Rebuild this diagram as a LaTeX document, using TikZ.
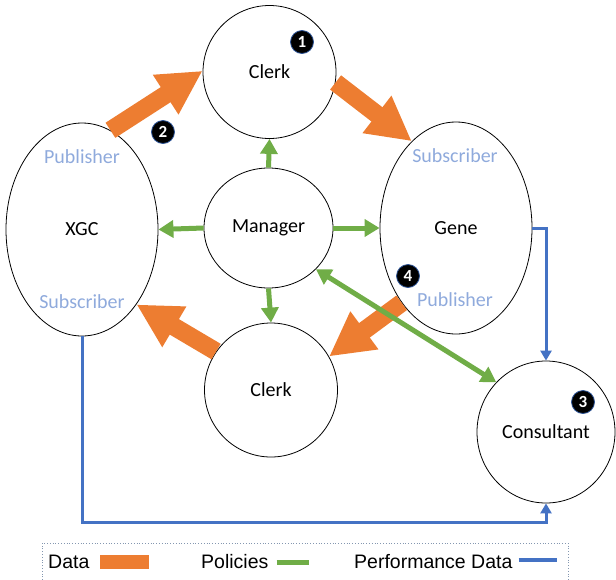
\documentclass[tikz,border=0pt]{standalone}
\usepackage{fontspec}
\setmainfont{Carlito}
\newfontfamily\legendfont{Liberation Sans}
\usetikzlibrary{arrows.meta,shapes.geometric}

\definecolor{dataorange}{HTML}{ED7D31}
\definecolor{policygreen}{HTML}{70AD47}
\definecolor{perfblue}{HTML}{4472C4}
\definecolor{rolelabel}{HTML}{8FAADC}
\definecolor{badgeline}{HTML}{2F5597}
\definecolor{legendline}{HTML}{8497B0}

\begin{document}
\begin{tikzpicture}[x=1pt, y=-1pt,
  agent/.style={draw=black, line width=0.8pt, ellipse, inner sep=0pt,
    font=\fontsize{20}{24}\selectfont},
  role/.style={text=rolelabel, inner sep=0pt, font=\fontsize{20}{24}\selectfont},
  badge/.style={circle, fill=black, draw=badgeline, line width=0.8pt, inner sep=0pt,
    minimum size=23pt, text=white, font=\fontsize{17}{17}\selectfont\bfseries},
  data/.style={dataorange, line width=18pt, -{Triangle[width=44pt, length=44pt]}},
  policy/.style={policygreen, line width=5pt, -{Triangle[width=17pt, length=15pt]}},
  perf/.style={perfblue, line width=3pt, -{Triangle[width=11pt, length=10pt]}},
  legendtext/.style={inner sep=0pt, font=\legendfont\fontsize{19.5}{22}\selectfont}]
\useasboundingbox (0,0) rectangle (616,579);

% agents
\node[agent, minimum width=133pt, minimum height=133pt] (clerkA) at (269.5,72) {Clerk};
\node[agent, minimum width=152pt, minimum height=213pt] (xgc) at (82,229.5) {XGC};
\node[agent, minimum width=129pt, minimum height=120pt] (manager) at (268.5,228) {Manager};
\node[agent, minimum width=152pt, minimum height=212pt] (gene) at (456,228) {Gene};
\node[agent, minimum width=133pt, minimum height=134pt] (clerkB) at (271,390) {Clerk};
\node[agent, minimum width=138pt, minimum height=142pt] (consult) at (546,432) {Consultant};

% publisher / subscriber labels
\node[role] (xgcpub) at (82,157) {Publisher};
\node[role] (xgcsub) at (82,302) {Subscriber};
\node[role] (genesub) at (455,156) {Subscriber};
\node[role] (genepub) at (455,300) {Publisher};

% numbered steps
\node[badge] (stepone) at (302,42) {1};
\node[badge] (steptwo) at (163,132) {2};
\node[badge] (stepthree) at (583,402) {3};
\node[badge] (stepfour) at (408,276) {4};

% data flow
\draw[data] (xgc.74) -- (clerkA.179);
\draw[data] (clerkA.-9) -- (gene.117);
\draw[data] (gene.-126) -- (clerkB.30);
\draw[data] (clerkB.145) -- (xgc.-54);

% policies
\draw[policy] (manager.north) -- (clerkA.south);
\draw[policy] (manager.west) -- (xgc.east);
\draw[policy] (manager.east) -- (gene.west);
\draw[policy] (manager.south) -- (clerkB.north);
\draw[policy, {Triangle[width=17pt, length=15pt]}-{Triangle[width=17pt, length=15pt]}]
  (manager.-41) -- (consult.135);

% performance data
\coordinate (perfturn) at (546,522);
\draw[perf] (gene.east) -| (consult.north);
\draw[perf] (xgc.south) |- (perfturn) -- (consult.south);

% legend
\draw[legendline, line width=0.8pt, dotted] (42,580) -- (42,543) -- (568,543) -- (568,580);
\node[legendtext, anchor=west] (legdata) at (48,562) {Data};
\node[fill=dataorange, minimum width=49pt, minimum height=14pt, inner sep=0pt] (legdatakey) at (124.5,562) {};
\node[legendtext, anchor=west] (legpolicy) at (201,562) {Policies};
\coordinate (legpolicyend) at (309,562);
\draw[policygreen, line width=5pt] (legpolicy.east) ++(8,0) -- (legpolicyend);
\node[legendtext, anchor=west] (legperf) at (354,562) {Performance Data};
\coordinate (legperfend) at (557,560);
\draw[perfblue, line width=3.2pt] (legperf.east |- legperfend) ++(6,0) -- (legperfend);
\end{tikzpicture}
\end{document}
